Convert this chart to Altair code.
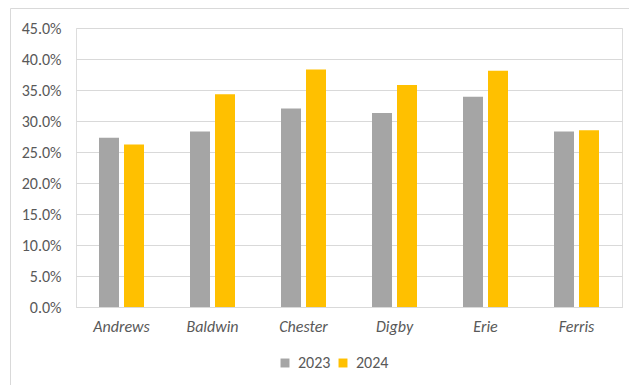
import altair as alt
import pandas as pd

categories = ["Andrews", "Baldwin", "Chester", "Digby", "Erie", "Ferris"]
years = ["2023", "2024"]
v2023 = [0.273, 0.283, 0.320, 0.313, 0.339, 0.283]
v2024 = [0.262, 0.343, 0.383, 0.358, 0.381, 0.285]
y_ticks = [0.0, 0.05, 0.10, 0.15, 0.20, 0.25, 0.30, 0.35, 0.40, 0.45]
colors = ["#a5a5a5", "#ffc000"]

rows = []
for c, a, b in zip(categories, v2023, v2024):
    rows.append({"team": c, "year": years[0], "value": a})
    rows.append({"team": c, "year": years[1], "value": b})
df = pd.DataFrame(rows)

FONT = "Carlito, Liberation Sans, Arial, sans-serif"
TXT = "#595959"

frame = alt.Chart(pd.DataFrame({"k": [0]})).mark_rect(
    fillOpacity=0, stroke="#d9d9d9", strokeWidth=1
).encode(
    x=alt.value(-65.5), x2=alt.value(600), y=alt.value(-19.5), y2=alt.value(400)
)

bars = alt.Chart(df).mark_bar().encode(
    x=alt.X("team:N", sort=categories,
            scale=alt.Scale(paddingInner=0, paddingOuter=0),
            axis=alt.Axis(title=None, labelAngle=0, labelFontStyle="italic",
                          labelFont=FONT, labelFontSize=16, labelColor=TXT,
                          labelPadding=11, ticks=False, domainColor="#d9d9d9",
                          domainWidth=1)),
    xOffset=alt.XOffset("year:N", sort=years,
                        scale=alt.Scale(paddingInner=0.2, paddingOuter=0.92)),
    y=alt.Y("value:Q", scale=alt.Scale(domain=[0, 0.45], nice=False),
            axis=alt.Axis(title=None, format=".1%", values=y_ticks,
                          labelFont=FONT, labelFontSize=16, labelColor=TXT,
                          labelPadding=15, ticks=False, domain=False,
                          gridColor="#d9d9d9", gridWidth=1)),
    color=alt.Color("year:N", sort=years,
                    scale=alt.Scale(domain=years, range=colors),
                    legend=alt.Legend(title=None, orient="none", direction="horizontal",
                                      legendX=201, legendY=327, symbolType="square",
                                      symbolSize=80, symbolStrokeWidth=0,
                                      labelFont=FONT, labelFontSize=16,
                                      labelColor=TXT, labelOffset=5,
                                      columnPadding=4, padding=0)),
)

chart = alt.layer(frame, bars).properties(
    width=546, height=279,
    autosize=alt.AutoSizeParams(type="none"),
    padding={"left": 76, "top": 28, "right": 7, "bottom": 78},
).configure_view(stroke=None).configure(background="white")

chart.save("out.html", embed_options={"renderer": "svg", "actions": False})
